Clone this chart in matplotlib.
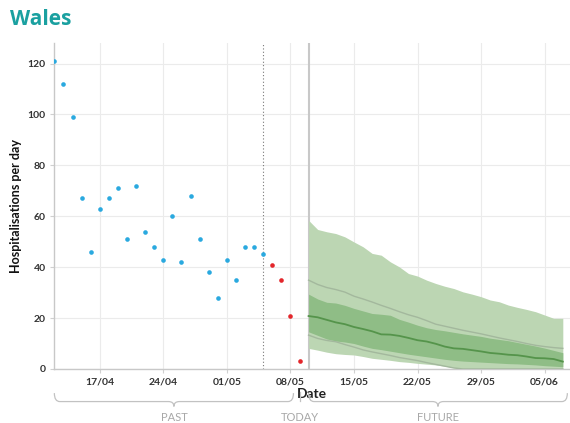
import matplotlib
matplotlib.use('Agg')
import matplotlib.pyplot as plt
import matplotlib.dates as mdates
import matplotlib.transforms as mtransforms
from matplotlib.path import Path
from matplotlib.patches import PathPatch
import numpy as np

# observed daily admissions (blue), then the recent incomplete days (red)
past_dates = np.arange('2020-04-12', '2020-05-06', dtype='datetime64[D]')
past_values = [121, 112, 99, 67, 46, 63, 67, 71, 51, 72, 54, 48, 43, 60, 42, 68,
               51, 38, 28, 43, 35, 48, 48, 45]
recent_dates = np.arange('2020-05-06', '2020-05-10', dtype='datetime64[D]')
recent_values = [41, 35, 21, 3]

# projection bands
proj_dates = np.arange('2020-05-10', '2020-06-08', dtype='datetime64[D]')
outer_hi = [58.4, 54.8, 53.9, 53.2, 51.9, 49.9, 48.0, 45.4, 44.7, 42.1, 40.1, 37.5,
            36.5, 34.9, 33.6, 32.5, 31.6, 30.3, 29.4, 28.4, 27.1, 26.4, 25.1, 24.2,
            23.4, 22.5, 21.2, 19.9, 19.9]
outer_lo = [8.1, 7.4, 6.6, 6.0, 5.7, 5.5, 4.9, 4.2, 3.8, 3.4, 2.9, 2.6, 2.2, 1.9,
            1.6, 1.1, 0.5, 0.1, 0, 0, 0, 0, 0, 0, 0, 0, 0, 0, 0]
mid_hi = [34.9, 33.2, 32.0, 31.2, 30.2, 28.6, 27.5, 26.3, 25.0, 23.8, 22.5, 21.3,
          20.3, 19.0, 17.6, 16.8, 16.0, 15.2, 14.5, 13.8, 13.0, 12.2, 11.5, 10.8,
          10.0, 9.3, 8.8, 8.4, 8.1]
mid_lo = [13.3, 12.0, 11.2, 10.7, 9.6, 8.6, 7.5, 6.7, 6.0, 5.3, 4.5, 3.9, 3.3, 2.5,
          1.8, 1.1, 0.4, 0, 0, 0, 0, 0, 0, 0, 0, 0, 0, 0, 0]
inner_hi = [29.4, 27.5, 26.2, 25.9, 25.0, 23.8, 22.8, 21.8, 21.5, 21.1, 19.5, 18.4,
            17.2, 16.2, 15.5, 15.0, 14.4, 13.8, 13.3, 12.8, 12.1, 11.6, 11.1, 10.4,
            9.7, 9.0, 8.2, 7.3, 6.4]
inner_lo = [14.6, 13.2, 11.8, 11.0, 10.6, 10.0, 9.0, 8.1, 7.6, 7.0, 6.4, 5.8, 5.3,
            4.8, 4.3, 3.8, 3.4, 3.1, 2.9, 2.7, 2.5, 2.3, 2.1, 2.0, 1.8, 1.6, 1.3,
            1.1, 0.9]
median = [20.8, 20.3, 19.3, 18.3, 17.6, 16.5, 15.7, 14.8, 13.6, 13.5, 13.0, 12.2,
          11.3, 10.8, 9.9, 8.8, 8.1, 7.9, 7.4, 6.9, 6.3, 6.0, 5.6, 5.4, 4.9, 4.3,
          4.2, 3.9, 2.9]

cutoff_date = np.datetime64('2020-05-05')
today_date = np.datetime64('2020-05-10')
tick_dates = np.arange('2020-04-17', '2020-06-06', 7, dtype='datetime64[D]')

plt.rcParams['font.family'] = ['Lato', 'DejaVu Sans']

fig = plt.figure(figsize=(5.7, 4.23), dpi=100)
ax = fig.add_axes([0.0947, 0.1277, 0.9053, 0.7703])

ax.fill_between(proj_dates, outer_lo, outer_hi, color='#bcd6b3', lw=0, zorder=2)
ax.fill_between(proj_dates, inner_lo, inner_hi, color='#8fbd86', lw=0, zorder=3)
ax.plot(proj_dates, mid_hi, color='#a3b89d', lw=1.0, zorder=4)
ax.plot(proj_dates, mid_lo, color='#a3b89d', lw=1.0, zorder=4)
ax.plot(proj_dates, median, color='#55944b', lw=1.3, zorder=5)

ax.scatter(past_dates, past_values, s=11, color='#2aa9df', zorder=6, lw=0)
ax.scatter(recent_dates, recent_values, s=11, color='#e3262b', zorder=6, lw=0)

ax.axvline(cutoff_date, color='#777777', lw=0.8, ls=(0, (1, 2)), zorder=1)
ax.axvline(today_date, color='#c8c8c8', lw=1.5, zorder=1)

ax.set_xlim(np.datetime64('2020-04-12') - np.timedelta64(1, 'h'),
            np.datetime64('2020-06-07') + np.timedelta64(19, 'h'))
ax.set_ylim(0, 128)
ax.set_yticks([0, 20, 40, 60, 80, 100, 120])
ax.set_xticks(tick_dates)
ax.xaxis.set_major_formatter(mdates.DateFormatter('%d/%m'))

ax.grid(True, color='#ebebeb', lw=0.8, zorder=0)
ax.set_axisbelow(True)
for s in ['top', 'right']:
    ax.spines[s].set_visible(False)
for s in ['left', 'bottom']:
    ax.spines[s].set_color('#c8c8c8')
    ax.spines[s].set_linewidth(1.0)
ax.tick_params(length=3, color='#d0d0d0', labelsize=7.5, labelcolor='#333333', pad=3)
for lab in ax.get_xticklabels() + ax.get_yticklabels():
    lab.set_fontweight('bold')

ax.set_xlabel('Date', fontsize=10, fontweight='bold', color='#222222', labelpad=1)
ax.set_ylabel('Hospitalisations per day', fontsize=9, fontweight='bold', color='#111111',
              labelpad=4)

fig.text(0.018, 0.953, 'Wales', fontsize=15, fontweight='bold', color='#1aa0a0',
         family=['Open Sans', 'DejaVu Sans'], va='center')

# braces under the axis
trans = mtransforms.blended_transform_factory(ax.transData, ax.transAxes)


def brace(x0, x1, y_top=-0.074, y_mid=-0.100, y_notch=-0.115):
    a = mdates.date2num(x0)
    b = mdates.date2num(x1)
    c = (a + b) / 2
    r = 0.6
    verts = [(a, y_top), (a, y_mid), (a + r, y_mid), (c - r, y_mid),
             (c, y_mid), (c, y_notch), (c, y_mid), (c + r, y_mid),
             (b - r, y_mid), (b, y_mid), (b, y_top)]
    codes = [Path.MOVETO, Path.CURVE3, Path.CURVE3, Path.LINETO,
             Path.CURVE3, Path.CURVE3, Path.CURVE3, Path.CURVE3,
             Path.LINETO, Path.CURVE3, Path.CURVE3]
    patch = PathPatch(Path(verts, codes), transform=trans, fill=False,
                      edgecolor='#c2c2c2', lw=0.9, clip_on=False)
    ax.add_patch(patch)
    return c


past_c = brace(np.datetime64('2020-04-12'), np.datetime64('2020-05-08T08'))
fut_c = brace(np.datetime64('2020-05-10'), np.datetime64('2020-06-07T12'))
today_x = mdates.date2num(np.datetime64('2020-05-09T02'))
ax.plot([today_x, today_x], [-0.072, -0.098], transform=trans, color='#c2c2c2',
        lw=0.9, clip_on=False)

for x, label in [(past_c, 'PAST'), (today_x, 'TODAY'), (fut_c, 'FUTURE')]:
    ax.text(x, -0.15, label, transform=trans, ha='center', va='center',
            fontsize=8, color='#a8a8a8')

fig.savefig('out.png', dpi=100)
